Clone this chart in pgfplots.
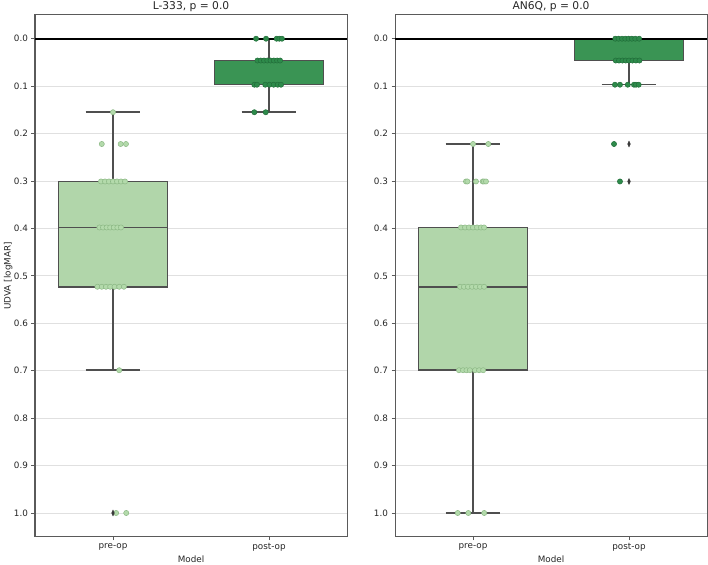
\documentclass[border=0pt]{standalone}
\usepackage{fontspec}
\setmainfont{DejaVu Sans}
\usepackage{pgfplots}
\pgfplotsset{compat=1.18}
\definecolor{preop}{HTML}{B1D6AA}
\definecolor{postop}{HTML}{3A9454}
\definecolor{preoppt}{HTML}{B3DAAB}
\definecolor{preopedge}{HTML}{8CB885}
\definecolor{postoppt}{HTML}{2E8B4B}
\definecolor{postopedge}{HTML}{226E3A}
\definecolor{boxgray}{HTML}{4F4F4F}
\definecolor{gridc}{HTML}{E0E0E0}
\definecolor{spine}{HTML}{5A5A5A}
\definecolor{textc}{HTML}{262626}
\definecolor{outl}{HTML}{3A3A3A}
\pgfplotsset{
 myax/.style={
  scale only axis, width=312pt, height=521.7pt,
  xmin=-0.5, xmax=1.5, ymin=-0.05, ymax=1.05, y dir=reverse,
  xtick={0,1}, xticklabels={pre-op,post-op},
  ytick={0,0.1,0.2,0.3,0.4,0.5,0.6,0.7,0.8,0.9,1.0},
  yticklabels={0.0,0.1,0.2,0.3,0.4,0.5,0.6,0.7,0.8,0.9,1.0},
  ymajorgrids, grid style={draw=gridc, line width=0.8pt},
  axis line style={draw=spine, line width=1pt},
  tick style={draw=spine, line width=0.8pt},
  tick align=outside, major tick length=3.5pt, tick pos=left,
  ticklabel style={font=\fontsize{8.8}{10}\selectfont, text=textc},
  every axis x label/.style={at={(axis description cs:0.5,0)}, anchor=center, yshift=-22.3pt,
    font=\fontsize{8.8}{10}\selectfont, text=textc},
  every axis y label/.style={at={(axis description cs:-0.086,0.5)}, anchor=center, rotate=90,
    font=\fontsize{8.8}{10}\selectfont, text=textc},
  every axis title shift=0pt,
  title style={at={(0.5,1)}, anchor=center, yshift=8pt, font=\fontsize{10.7}{12}\selectfont, text=textc},
  xlabel={Model},
 },
 prebox/.style={draw=boxgray, fill=preop, line width=1.5pt, no marks, line join=miter},
 postbox/.style={draw=boxgray, fill=postop, line width=1.5pt, no marks, line join=miter},
 whisk/.style={draw=boxgray, line width=1.5pt, no marks},
 prept/.style={only marks, mark=*, mark size=2.6pt, mark options={fill=preoppt, draw=preopedge, line width=0.5pt}},
 postpt/.style={only marks, mark=*, mark size=2.6pt, mark options={fill=postoppt, draw=postopedge, line width=0.5pt}},
 outpt/.style={only marks, mark=diamond*, mark size=3pt, mark options={fill=outl, draw=outl, xscale=0.6}},
 zeroline/.style={black, line width=1.7pt, no marks},
}
\begin{document}
\begin{tikzpicture}
\path[use as bounding box] (0,0) rectangle (708pt,564pt);
% ---------------- Left panel ----------------
\begin{axis}[myax, at={(35pt,27.3pt)}, anchor=south west,
  title={L-333, p = 0.0}, ylabel={UDVA [logMAR]}]
% pre-op box: whiskers 0.155 / 0.699, quartiles 0.301 / 0.523, median 0.398
\addplot[whisk] coordinates {(0,0.155) (0,0.301)};
\addplot[whisk] coordinates {(0,0.523) (0,0.699)};
\addplot[whisk] coordinates {(-0.175,0.155) (0.175,0.155)};
\addplot[whisk] coordinates {(-0.175,0.699) (0.175,0.699)};
\addplot[prebox] coordinates {(-0.35,0.301) (0.35,0.301) (0.35,0.523) (-0.35,0.523)} -- cycle;
\addplot[whisk] coordinates {(-0.35,0.398) (0.35,0.398)};
% post-op box: whiskers 0 / 0.155, quartiles 0.046 / 0.097, median 0.097
\addplot[whisk] coordinates {(1,0) (1,0.046)};
\addplot[whisk] coordinates {(1,0.097) (1,0.155)};
\addplot[whisk] coordinates {(0.825,0) (1.175,0)};
\addplot[whisk] coordinates {(0.825,0.155) (1.175,0.155)};
\addplot[postbox] coordinates {(0.65,0.046) (1.35,0.046) (1.35,0.097) (0.65,0.097)} -- cycle;
\addplot[zeroline] coordinates {(-0.5,0) (1.5,0)};
\addplot[prept] coordinates {
 (0,0.155)
 (-0.072,0.222) (0.049,0.222) (0.083,0.222)
 (-0.077,0.301) (-0.051,0.301) (-0.026,0.301) (0,0.301) (0.026,0.301) (0.051,0.301) (0.077,0.301)
 (-0.087,0.398) (-0.064,0.398) (-0.041,0.398) (-0.018,0.398) (0.005,0.398) (0.028,0.398) (0.051,0.398)
 (-0.100,0.523) (-0.072,0.523) (-0.045,0.523) (-0.018,0.523) (0.010,0.523) (0.040,0.523) (0.070,0.523)
 (0.040,0.699)
 (0.020,1.0) (0.085,1.0)
};
\addplot[postpt] coordinates {
 (0.917,0) (0.981,0) (1.049,0) (1.066,0) (1.083,0)
 (0.926,0.046) (0.947,0.046) (0.968,0.046) (0.989,0.046) (1.010,0.046) (1.031,0.046) (1.052,0.046) (1.071,0.046)
 (0.906,0.097) (0.923,0.097) (0.976,0.097) (1.003,0.097) (1.030,0.097) (1.056,0.097) (1.077,0.097)
 (0.906,0.155) (0.979,0.155)
};
\addplot[outpt] coordinates {(0,1.0)};
\end{axis}
% ---------------- Right panel ----------------
\begin{axis}[myax, at={(395pt,27.3pt)}, anchor=south west,
  title={AN6Q, p = 0.0}]
% pre-op box: whiskers 0.222 / 1.0, quartiles 0.398 / 0.699, median 0.523
\addplot[whisk] coordinates {(0,0.222) (0,0.398)};
\addplot[whisk] coordinates {(0,0.699) (0,1.0)};
\addplot[whisk] coordinates {(-0.175,0.222) (0.175,0.222)};
\addplot[whisk] coordinates {(-0.175,1.0) (0.175,1.0)};
\addplot[prebox] coordinates {(-0.35,0.398) (0.35,0.398) (0.35,0.699) (-0.35,0.699)} -- cycle;
\addplot[whisk] coordinates {(-0.35,0.523) (0.35,0.523)};
% post-op box: whiskers 0 / 0.097, quartiles 0 / 0.046
\addplot[whisk] coordinates {(1,0.046) (1,0.097)};
\addplot[whisk] coordinates {(0.825,0.097) (1.175,0.097)};
\addplot[postbox] coordinates {(0.65,0) (1.35,0) (1.35,0.046) (0.65,0.046)} -- cycle;
\addplot[zeroline] coordinates {(-0.5,0) (1.5,0)};
\addplot[prept] coordinates {
 (0,0.222) (0.098,0.222)
 (-0.045,0.301) (-0.036,0.301) (0.019,0.301) (0.062,0.301) (0.070,0.301) (0.083,0.301)
 (-0.077,0.398) (-0.051,0.398) (-0.026,0.398) (0,0.398) (0.026,0.398) (0.051,0.398) (0.071,0.398)
 (-0.083,0.523) (-0.058,0.523) (-0.032,0.523) (-0.006,0.523) (0.019,0.523) (0.045,0.523) (0.071,0.523)
 (-0.090,0.699) (-0.064,0.699) (-0.042,0.699) (-0.020,0.699) (0.013,0.699) (0.039,0.699) (0.065,0.699)
 (-0.098,1.0) (-0.030,1.0) (0.072,1.0)
};
\addplot[postpt] coordinates {
 (0.912,0) (0.933,0) (0.955,0) (0.976,0) (0.997,0) (1.018,0) (1.040,0) (1.065,0)
 (0.915,0.046) (0.936,0.046) (0.958,0.046) (0.979,0.046) (1.000,0.046) (1.022,0.046) (1.044,0.046) (1.067,0.046)
 (0.910,0.097) (0.942,0.097) (0.992,0.097) (1.032,0.097) (1.045,0.097) (1.062,0.097)
 (0.904,0.222) (0.942,0.301)
};
\addplot[outpt] coordinates {(1,0.222) (1,0.301)};
\end{axis}
\end{tikzpicture}
\end{document}
